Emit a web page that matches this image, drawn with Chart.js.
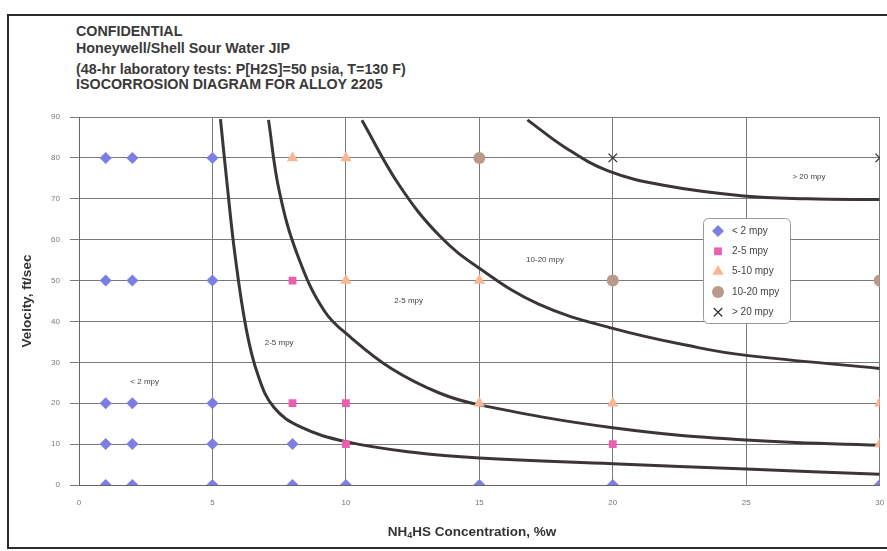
<!DOCTYPE html>
<html>
<head>
<meta charset="utf-8">
<script src="https://cdn.jsdelivr.net/npm/chart.js@4.4.1/dist/chart.umd.min.js"></script>
<style>
  html, body { margin: 0; padding: 0; background: #fff; overflow: hidden; }
  #wrap { position: relative; width: 887px; height: 551px; font-family: "Liberation Sans", Arial, sans-serif; }
  #frame { position: absolute; left: 7px; top: 14px; width: 900px; height: 535px; border: 2px solid #2a2a2a; box-sizing: border-box; }
  .hd { position: absolute; left: 76px; font-weight: bold; font-size: 14.3px; line-height: 16px; color: #3a3a3a; white-space: nowrap; }
  #xt { position: absolute; left: 0; width: 944px; text-align: center; top: 524px; font-weight: bold; font-size: 13.5px; color: #333; }
  #xt sub { font-size: 9px; vertical-align: -2px; }
  canvas { position: absolute; left: 0; top: 0; }
</style>
</head>
<body>
<div id="wrap">
  <div id="frame"></div>
  <div class="hd" style="top:23px">CONFIDENTIAL</div>
  <div class="hd" style="top:40px">Honeywell/Shell Sour Water JIP</div>
  <div class="hd" style="top:61px">(48-hr laboratory tests: P[H2S]=50 psia, T=130 F)</div>
  <div class="hd" style="top:76px">ISOCORROSION DIAGRAM FOR ALLOY 2205</div>
  <canvas id="chart" width="887" height="551"></canvas>
  <div id="xt">NH<sub>4</sub>HS Concentration, %w</div>
</div>
<script>
const ptsLt2   = [[1,80],[2,80],[5,80],[1,50],[2,50],[5,50],[1,20],[2,20],[5,20],
                  [1,10],[2,10],[5,10],[8,10],[1,0],[2,0],[5,0],[8,0],[10,0],[15,0],[20,0],[30,0]];
const pts2to5  = [[8,50],[8,20],[10,20],[10,10],[20,10]];
const pts5to10 = [[8,80],[10,80],[10,50],[15,50],[15,20],[20,20],[30,20],[30,10]];
const pts10to20 = [[15,80],[20,50],[30,50]];
const ptsGt20  = [[20,80],[30,80]];

// Courbes d'isocorrosion (frontières entre zones)
const curveA = [[5.3,89.5],[5.55,73.5],[5.85,56],[6.27,38],[6.7,27],[7.3,19],
                [8.3,14.2],[10,10.6],[12.5,8],[15,6.6],[20,5.2],[25,3.9],[30,2.6]];
const curveB = [[7.1,89.3],[7.5,72],[8.2,56],[9.2,42.5],[10.2,36],[11.7,28.5],
                [13.5,22.5],[15,19.6],[20,14],[25,11],[30,9.7]];
const curveC = [[10.6,89.2],[12,73.3],[13.5,61],[15,53],[17.2,44.3],[20,38.3],
                [23.2,33.6],[25,31.7],[30,28.5]];
const curveD = [[16.8,89.3],[18.2,82.6],[19.8,76.9],[21.9,73.3],[24.9,70.7],[27.3,70],[30,69.8]];

// Étiquettes des zones
const zoneLabels = ['< 2 mpy', '2-5 mpy', '2-5 mpy', '10-20 mpy', '> 20 mpy'];
const zoneAt     = [[2.46,25.2],[7.5,34.8],[12.35,45],[17.46,55],[27.35,75.3]];

const xTicks = [0, 5, 10, 15, 20, 25, 30];
const yTicks = [0, 10, 20, 30, 40, 50, 60, 70, 80, 90];

const toXY = arr => arr.map(([x, y]) => ({ x, y }));

function markerSet(label, pts, style, color, radius) {
  return {
    label, data: toXY(pts), showLine: false, legendItem: true,
    pointStyle: style, pointRadius: radius, pointHoverRadius: radius,
    pointBackgroundColor: color, pointBorderColor: color, pointBorderWidth: style === 'crossRot' ? 1.3 : 0
  };
}
function curveSet(pts) {
  return {
    label: '', data: toXY(pts), showLine: true, pointRadius: 0,
    borderColor: '#3b3539', borderWidth: 3, tension: 0.4, fill: false
  };
}

// Légende dessinée dans la zone du graphique
const legendBox = {
  id: 'legendBox',
  afterDraw(chart) {
    const ctx = chart.ctx;
    const items = chart.data.datasets.filter(d => d.legendItem);
    const x0 = 703, y0 = 218, w = 87, h = 105;
    ctx.save();
    ctx.fillStyle = '#fff';
    ctx.strokeStyle = '#999';
    ctx.lineWidth = 1;
    ctx.beginPath();
    ctx.roundRect(x0 + 0.5, y0 + 0.5, w, h, 5);
    ctx.fill(); ctx.stroke();
    ctx.font = '10px "Liberation Sans", Arial, sans-serif';
    ctx.textBaseline = 'middle';
    items.forEach((d, i) => {
      const y = y0 + 13 + i * 20.3;
      ctx.fillStyle = d.pointBackgroundColor;
      ctx.strokeStyle = d.pointBorderColor;
      ctx.lineWidth = d.pointBorderWidth || 1;
      Chart.helpers.drawPoint(ctx, {
        pointStyle: d.pointStyle, radius: d.pointRadius, borderWidth: d.pointBorderWidth, rotation: 0
      }, x0 + 15, y);
      ctx.fillStyle = '#444';
      ctx.fillText(d.label, x0 + 29, y);
    });
    ctx.restore();
  }
};

// Étiquettes des zones en coordonnées de données
const zoneText = {
  id: 'zoneText',
  afterDatasetsDraw(chart) {
    const { ctx, scales: { x, y } } = chart;
    ctx.save();
    ctx.font = '8px "Liberation Sans", Arial, sans-serif';
    ctx.fillStyle = '#444';
    ctx.textAlign = 'center';
    ctx.textBaseline = 'middle';
    zoneLabels.forEach((t, i) => {
      ctx.fillText(t, x.getPixelForValue(zoneAt[i][0]), y.getPixelForValue(zoneAt[i][1]));
    });
    ctx.restore();
  }
};

const chart = new Chart(document.getElementById('chart'), {
  type: 'scatter',
  data: {
    datasets: [
      markerSet('< 2 mpy', ptsLt2, 'rectRot', '#7b7fe4', 6),
      markerSet('2-5 mpy', pts2to5, 'rect', '#ec5fb0', 5.5),
      markerSet('5-10 mpy', pts5to10, 'triangle', '#f9b692', 6.5),
      markerSet('10-20 mpy', pts10to20, 'circle', '#b99a8c', 6),
      markerSet('> 20 mpy', ptsGt20, 'crossRot', '#333333', 6),
      curveSet(curveA), curveSet(curveB), curveSet(curveC), curveSet(curveD)
    ]
  },
  options: {
    responsive: false,
    animation: false,
    layout: { padding: { left: 15, top: 117, right: 4, bottom: 0 } },
    plugins: { legend: { display: false }, tooltip: { enabled: false } },
    scales: {
      x: {
        type: 'linear', min: 0, max: 30,
        afterBuildTicks: s => { s.ticks = xTicks.map(v => ({ value: v })); },
        afterFit: s => { s.height = 66; s.paddingLeft = 0; s.paddingRight = 0; },
        grid: { color: '#7a7a7a', lineWidth: 1, drawTicks: false },
        border: { color: '#666' },
        ticks: { color: '#777', padding: 13, font: { size: 8, family: '"Liberation Sans", Arial' } }
      },
      y: {
        type: 'linear', min: 0, max: 90,
        afterBuildTicks: s => { s.ticks = yTicks.map(v => ({ value: v })); },
        afterFit: s => { s.width = 64; s.paddingTop = 0; s.paddingBottom = 0; },
        grid: { color: '#7a7a7a', lineWidth: 1, tickLength: 9 },
        border: { color: '#666' },
        ticks: { color: '#777', padding: 10, font: { size: 8, family: '"Liberation Sans", Arial' } },
        title: { display: true, text: 'Velocity, ft/sec', color: '#333',
                 font: { size: 13.5, weight: 'bold', family: '"Liberation Sans", Arial' } }
      }
    }
  },
  plugins: [zoneText, legendBox]
});
</script>
</body>
</html>
